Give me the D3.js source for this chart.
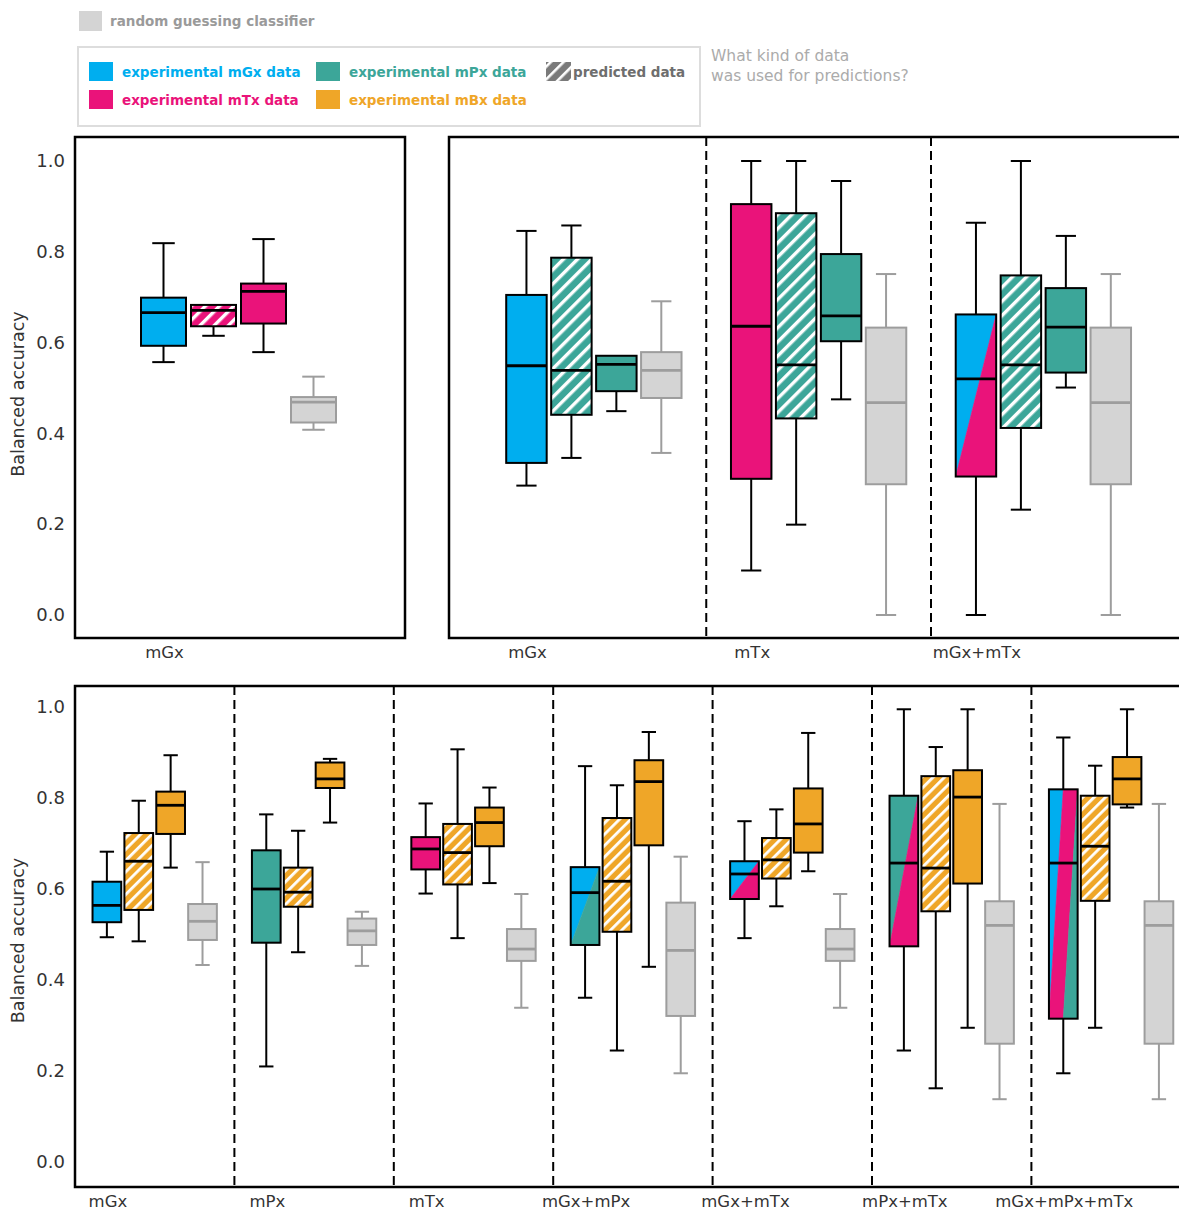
<!DOCTYPE html>
<html>
<head>
<meta charset="utf-8">
<script src="https://cdn.jsdelivr.net/npm/d3@7"></script>
<style>
  html, body { margin: 0; padding: 0; background: #fff; }
  svg { display: block; font-family: "DejaVu Sans", sans-serif; }
</style>
</head>
<body>
<svg id="chart" width="1179" height="1210"></svg>
<script>
// ---- data ---------------------------------------------------------------
const yTicks = [0, 0.2, 0.4, 0.6, 0.8, 1.0];

const topLeftCategories = ["mGx"];
const topRightCategories = ["mGx", "mTx", "mGx+mTx"];
const bottomCategories = ["mGx", "mPx", "mTx", "mGx+mPx", "mGx+mTx", "mPx+mTx", "mGx+mPx+mTx"];

// stats: [lower whisker, Q1, median, Q3, upper whisker]
// kind: experimental source(s) joined by "+", a trailing "*" marks predicted data,
// "random" is the random guessing classifier
const topLeftBoxes = [
  { cat: "mGx", kind: "mGx",    stats: [0.557, 0.593, 0.666, 0.699, 0.819] },
  { cat: "mGx", kind: "mTx*",   stats: [0.615, 0.636, 0.671, 0.683, 0.683] },
  { cat: "mGx", kind: "mTx",    stats: [0.579, 0.642, 0.713, 0.730, 0.828] },
  { cat: "mGx", kind: "random", stats: [0.408, 0.424, 0.469, 0.480, 0.525] }
];

const topRightBoxes = [
  { cat: "mGx",     kind: "mGx",     stats: [0.285, 0.335, 0.549, 0.705, 0.846] },
  { cat: "mGx",     kind: "mPx*",    stats: [0.346, 0.441, 0.539, 0.787, 0.858] },
  { cat: "mGx",     kind: "mPx",     stats: [0.449, 0.493, 0.552, 0.571, 0.571] },
  { cat: "mGx",     kind: "random",  stats: [0.357, 0.478, 0.539, 0.579, 0.691] },
  { cat: "mTx",     kind: "mTx",     stats: [0.098, 0.300, 0.636, 0.905, 1.000] },
  { cat: "mTx",     kind: "mPx*",    stats: [0.199, 0.433, 0.551, 0.885, 1.000] },
  { cat: "mTx",     kind: "mPx",     stats: [0.475, 0.603, 0.659, 0.795, 0.956] },
  { cat: "mTx",     kind: "random",  stats: [0.000, 0.288, 0.468, 0.633, 0.751] },
  { cat: "mGx+mTx", kind: "mGx+mTx", stats: [0.000, 0.305, 0.520, 0.662, 0.864] },
  { cat: "mGx+mTx", kind: "mPx*",    stats: [0.232, 0.412, 0.551, 0.748, 1.000] },
  { cat: "mGx+mTx", kind: "mPx",     stats: [0.501, 0.534, 0.634, 0.720, 0.835] },
  { cat: "mGx+mTx", kind: "random",  stats: [0.000, 0.288, 0.468, 0.633, 0.751] }
];

const bottomBoxes = [
  { cat: "mGx",         kind: "mGx",         stats: [0.494, 0.527, 0.564, 0.616, 0.682] },
  { cat: "mGx",         kind: "mBx*",        stats: [0.485, 0.554, 0.661, 0.723, 0.794] },
  { cat: "mGx",         kind: "mBx",         stats: [0.647, 0.721, 0.784, 0.814, 0.894] },
  { cat: "mGx",         kind: "random",      stats: [0.433, 0.488, 0.529, 0.567, 0.659] },
  { cat: "mPx",         kind: "mPx",         stats: [0.210, 0.482, 0.600, 0.685, 0.764] },
  { cat: "mPx",         kind: "mBx*",        stats: [0.461, 0.561, 0.593, 0.647, 0.728] },
  { cat: "mPx",         kind: "mBx",         stats: [0.746, 0.822, 0.842, 0.878, 0.886] },
  { cat: "mPx",         kind: "random",      stats: [0.431, 0.477, 0.508, 0.535, 0.550] },
  { cat: "mTx",         kind: "mTx",         stats: [0.590, 0.643, 0.688, 0.714, 0.788] },
  { cat: "mTx",         kind: "mBx*",        stats: [0.492, 0.610, 0.680, 0.743, 0.907] },
  { cat: "mTx",         kind: "mBx",         stats: [0.613, 0.694, 0.746, 0.779, 0.823] },
  { cat: "mTx",         kind: "random",      stats: [0.339, 0.442, 0.468, 0.512, 0.589] },
  { cat: "mGx+mPx",     kind: "mGx+mPx",     stats: [0.361, 0.477, 0.592, 0.648, 0.870] },
  { cat: "mGx+mPx",     kind: "mBx*",        stats: [0.245, 0.506, 0.617, 0.756, 0.828] },
  { cat: "mGx+mPx",     kind: "mBx",         stats: [0.429, 0.696, 0.836, 0.883, 0.945] },
  { cat: "mGx+mPx",     kind: "random",      stats: [0.195, 0.321, 0.465, 0.570, 0.671] },
  { cat: "mGx+mTx",     kind: "mGx+mTx",     stats: [0.492, 0.578, 0.633, 0.661, 0.749] },
  { cat: "mGx+mTx",     kind: "mBx*",        stats: [0.562, 0.623, 0.664, 0.712, 0.775] },
  { cat: "mGx+mTx",     kind: "mBx",         stats: [0.639, 0.680, 0.743, 0.821, 0.943] },
  { cat: "mGx+mTx",     kind: "random",      stats: [0.339, 0.442, 0.468, 0.512, 0.589] },
  { cat: "mPx+mTx",     kind: "mPx+mTx",     stats: [0.245, 0.474, 0.657, 0.805, 0.995] },
  { cat: "mPx+mTx",     kind: "mBx*",        stats: [0.162, 0.551, 0.646, 0.848, 0.912] },
  { cat: "mPx+mTx",     kind: "mBx",         stats: [0.295, 0.612, 0.802, 0.861, 0.995] },
  { cat: "mPx+mTx",     kind: "random",      stats: [0.138, 0.260, 0.520, 0.573, 0.787] },
  { cat: "mGx+mPx+mTx", kind: "mGx+mTx+mPx", stats: [0.195, 0.315, 0.657, 0.819, 0.933] },
  { cat: "mGx+mPx+mTx", kind: "mBx*",        stats: [0.295, 0.574, 0.694, 0.805, 0.871] },
  { cat: "mGx+mPx+mTx", kind: "mBx",         stats: [0.779, 0.786, 0.842, 0.890, 0.995] },
  { cat: "mGx+mPx+mTx", kind: "random",      stats: [0.138, 0.260, 0.520, 0.573, 0.787] }
];

const legendItems = [
  { key: "mGx", label: "experimental mGx data" },
  { key: "mTx", label: "experimental mTx data" },
  { key: "mPx", label: "experimental mPx data" },
  { key: "mBx", label: "experimental mBx data" }
];

// ---- styling --------------------------------------------------------------
const colors = { mGx: "#00aeef", mTx: "#ea137a", mPx: "#3ca699", mBx: "#efa628" };
const randomFill = "#d4d4d4";
const randomStroke = "#9d9d9d";
const textDark = "#333333";

const svg = d3.select("#chart");
const defs = svg.append("defs");

// diagonal white hatching ("/") over a base colour
function hatch(id, base, size, stripe, stripeColor) {
  const p = defs.append("pattern")
    .attr("id", id)
    .attr("patternUnits", "userSpaceOnUse")
    .attr("width", size).attr("height", size)
    .attr("patternTransform", "rotate(45)");
  p.append("rect").attr("width", size).attr("height", size).attr("fill", base);
  p.append("rect").attr("width", stripe).attr("height", size).attr("fill", stripeColor || "#fff");
}
Object.keys(colors).forEach(k => {
  hatch("hatch-lg-" + k, colors[k], 10, 3.4);
  hatch("hatch-sm-" + k, colors[k], 8, 2.8);
});
hatch("hatch-legend", "#7a7a7a", 9, 2.6);

// ---- panels -------------------------------------------------------------
const panels = [
  { cats: topLeftCategories,  boxes: topLeftBoxes,  frame: [75, 137, 405, 638],
    groupStart: 113.5, step: 50,    yRange: [615, 161], labelY: 658, axis: true,  hatchSize: "lg" },
  { cats: topRightCategories, boxes: topRightBoxes, frame: [449, 137, 1190, 638],
    groupStart: 481.5, step: 44.95, yRange: [615, 161], labelY: 658, axis: false, hatchSize: "lg" },
  { cats: bottomCategories,   boxes: bottomBoxes,   frame: [75, 686, 1190, 1187],
    groupStart: 75,    step: 31.88, yRange: [1162, 707], labelY: 1207, axis: true, hatchSize: "sm" }
];

panels.forEach(panel => {
  const [fx0, fy0, fx1, fy1] = panel.frame;
  const g = svg.append("g");

  const y = d3.scaleLinear().domain([0, 1]).range(panel.yRange);
  const x = d3.scaleBand()
    .domain(panel.cats)
    .range([panel.groupStart, panel.groupStart + panel.cats.length * 5 * panel.step])
    .padding(0);
  const slots = [0, 1, 2, 3];
  const inner = d3.scaleBand()
    .domain(slots)
    .range([0, x.bandwidth()])
    .paddingInner(0.1)
    .paddingOuter(0.55);

  // frame
  g.append("rect")
    .attr("x", fx0).attr("y", fy0)
    .attr("width", fx1 - fx0).attr("height", fy1 - fy0)
    .attr("fill", "none").attr("stroke", "#000").attr("stroke-width", 2.5);

  // dashed group separators
  g.selectAll("line.sep")
    .data(panel.cats.slice(1))
    .join("line")
    .attr("class", "sep")
    .attr("x1", d => x(d)).attr("x2", d => x(d))
    .attr("y1", fy0).attr("y2", fy1)
    .attr("stroke", "#000").attr("stroke-width", 2)
    .attr("stroke-dasharray", "9,5");

  // y axis
  if (panel.axis) {
    const ax = g.append("g")
      .attr("transform", `translate(${fx0 - 1},0)`)
      .call(d3.axisLeft(y).tickValues(yTicks).tickFormat(d3.format(".1f")).tickSize(0).tickPadding(9));
    ax.select(".domain").remove();
    ax.selectAll("text")
      .attr("font-family", "DejaVu Sans, sans-serif")
      .attr("font-size", 18)
      .attr("fill", textDark);
    g.append("text")
      .attr("transform", `translate(24,${(panel.yRange[0] + panel.yRange[1]) / 2 + 6}) rotate(-90)`)
      .attr("text-anchor", "middle")
      .attr("font-size", 17.5)
      .attr("fill", textDark)
      .text("Balanced accuracy");
  }

  // category labels, centred under the first box of each group
  g.selectAll("text.cat")
    .data(panel.cats)
    .join("text")
    .attr("class", "cat")
    .attr("x", d => x(d) + inner(0) + inner.bandwidth() / 2 + 1)
    .attr("y", panel.labelY)
    .attr("text-anchor", "middle")
    .attr("font-size", 16.5)
    .attr("fill", textDark)
    .text(d => d);

  // assign slot index inside each group
  const counter = {};
  const boxes = panel.boxes.map(b => {
    counter[b.cat] = (counter[b.cat] || 0);
    const slot = counter[b.cat]++;
    return Object.assign({ slot }, b);
  });

  const bw = inner.bandwidth();
  const cap = bw * 0.5;

  boxes.forEach(b => {
    const [lo, q1, med, q3, hi] = b.stats;
    const left = x(b.cat) + inner(b.slot);
    const cx = left + bw / 2;
    const isRandom = b.kind === "random";
    const stroke = isRandom ? randomStroke : "#000";
    const bg = g.append("g");

    // whiskers
    const wh = [[q3, hi], [q1, lo]].filter(([a, c]) => Math.abs(a - c) > 1e-6);
    wh.forEach(([a, c]) => {
      bg.append("line")
        .attr("x1", cx).attr("x2", cx)
        .attr("y1", y(a)).attr("y2", y(c))
        .attr("stroke", stroke).attr("stroke-width", 2);
      bg.append("line")
        .attr("x1", cx - cap / 2).attr("x2", cx + cap / 2)
        .attr("y1", y(c)).attr("y2", y(c))
        .attr("stroke", stroke).attr("stroke-width", 2);
    });

    const top = y(q3), bot = y(q1);
    const L = left, R = left + bw, M = left + bw / 2;

    // box body
    if (isRandom) {
      bg.append("rect").attr("x", L).attr("y", top).attr("width", bw).attr("height", bot - top)
        .attr("fill", randomFill);
    } else if (b.kind.endsWith("*")) {
      const src = b.kind.slice(0, -1);
      bg.append("rect").attr("x", L).attr("y", top).attr("width", bw).attr("height", bot - top)
        .attr("fill", `url(#hatch-${panel.hatchSize}-${src})`);
    } else {
      const parts = b.kind.split("+");
      let polys;
      if (parts.length === 1) {
        polys = [[[L, top], [R, top], [R, bot], [L, bot]]];
      } else if (parts.length === 2) {
        polys = [
          [[L, top], [R, top], [L, bot]],
          [[R, top], [R, bot], [L, bot]]
        ];
      } else {
        polys = [
          [[L, top], [M, top], [L, bot]],
          [[M, top], [R, top], [M, bot], [L, bot]],
          [[R, top], [R, bot], [M, bot]]
        ];
      }
      polys.forEach((pts, i) => {
        bg.append("polygon")
          .attr("points", pts.map(p => p.join(",")).join(" "))
          .attr("fill", colors[parts[i]])
          .attr("stroke", colors[parts[i]])
          .attr("stroke-width", 0.6);
      });
    }

    bg.append("rect").attr("x", L).attr("y", top).attr("width", bw).attr("height", bot - top)
      .attr("fill", "none").attr("stroke", stroke).attr("stroke-width", 2);

    // median
    bg.append("line")
      .attr("x1", L).attr("x2", R)
      .attr("y1", y(med)).attr("y2", y(med))
      .attr("stroke", stroke).attr("stroke-width", 2.8);
  });
});

// ---- legend ---------------------------------------------------------------
const lg = svg.append("g").attr("font-family", "DejaVu Sans, sans-serif");

lg.append("rect").attr("x", 79).attr("y", 11).attr("width", 23).attr("height", 20).attr("fill", randomFill);
lg.append("text").attr("x", 110).attr("y", 26).attr("font-size", 13.5).attr("font-weight", "bold")
  .attr("fill", "#9a9a9a").text("random guessing classifier");

lg.append("rect").attr("x", 78).attr("y", 47).attr("width", 622).attr("height", 79)
  .attr("fill", "none").attr("stroke", "#dddddd").attr("stroke-width", 2);

const legendPos = [
  { x: 89, y: 62 }, { x: 89, y: 90 }, { x: 316, y: 62 }, { x: 316, y: 90 }
];
legendItems.forEach((it, i) => {
  const p = legendPos[i];
  lg.append("rect").attr("x", p.x).attr("y", p.y).attr("width", 24).attr("height", 19).attr("fill", colors[it.key]);
  lg.append("text").attr("x", p.x + 33).attr("y", p.y + 15).attr("font-size", 13.5).attr("font-weight", "bold")
    .attr("fill", colors[it.key]).text(it.label);
});
lg.append("rect").attr("x", 546).attr("y", 62).attr("width", 25).attr("height", 19).attr("fill", "url(#hatch-legend)");
lg.append("text").attr("x", 573).attr("y", 77).attr("font-size", 13.5).attr("font-weight", "bold")
  .attr("fill", "#6e6e6e").text("predicted data");

lg.append("text").attr("x", 711).attr("y", 61).attr("font-size", 15.5).attr("fill", "#ababab").text("What kind of data");
lg.append("text").attr("x", 711).attr("y", 81).attr("font-size", 15.5).attr("fill", "#ababab").text("was used for predictions?");
</script>
</body>
</html>
